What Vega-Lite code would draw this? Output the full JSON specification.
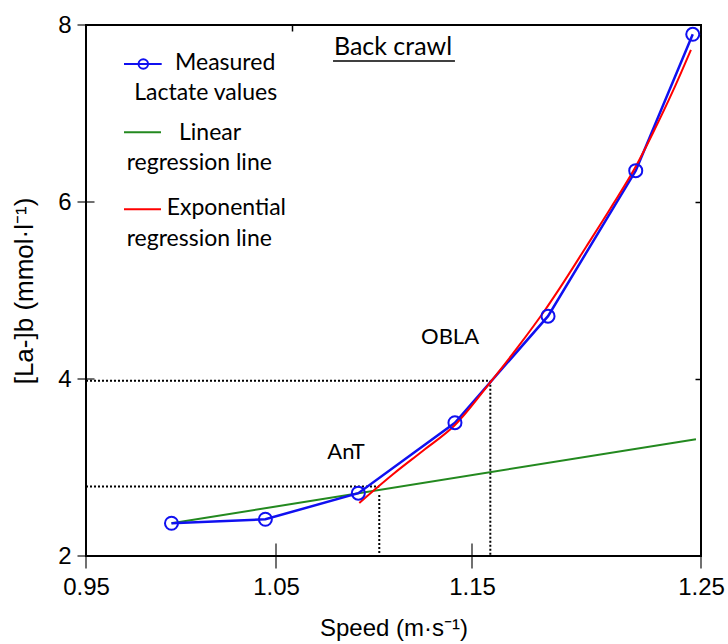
{
  "$schema": "https://vega.github.io/schema/vega-lite/v6.json",
  "width": 615,
  "height": 531,
  "autosize": {"type": "none"},
  "padding": {"left": 86, "top": 25, "right": 27, "bottom": 88},
  "background": "white",
  "config": {
    "view": {"stroke": "black", "strokeWidth": 2},
    "axis": {
      "grid": false,
      "domain": false,
      "ticks": false,
      "tickSize": 0,
      "labelFlush": false,
      "labelFont": "Liberation Sans",
      "labelFontSize": 24,
      "labelColor": "black",
      "titleFont": "Liberation Sans",
      "titleFontSize": 24,
      "titleFontWeight": "normal",
      "titleColor": "black"
    }
  },
  "datasets": {
    "measured": [
      {"x": 0.995, "y": 2.37, "series": "Measured"},
      {"x": 1.0444, "y": 2.415, "series": "Measured"},
      {"x": 1.092, "y": 2.71, "series": "Measured"},
      {"x": 1.1413, "y": 3.506, "series": "Measured"},
      {"x": 1.1832, "y": 4.71, "series": "Measured"},
      {"x": 1.2215, "y": 6.354, "series": "Measured"},
      {"x": 1.2464, "y": 7.895, "series": "Measured"}
    ],
    "linear": [
      {"x": 0.995, "y": 2.37, "series": "Linear"},
      {"x": 1.2478, "y": 3.32, "series": "Linear"}
    ],
    "exponential": [
      {"x": 1.0925, "y": 2.6, "series": "Exponential"},
      {"x": 1.11, "y": 2.93, "series": "Exponential"},
      {"x": 1.125, "y": 3.19, "series": "Exponential"},
      {"x": 1.1413, "y": 3.48, "series": "Exponential"},
      {"x": 1.1579, "y": 3.96, "series": "Exponential"},
      {"x": 1.17, "y": 4.36, "series": "Exponential"},
      {"x": 1.1819, "y": 4.78, "series": "Exponential"},
      {"x": 1.1884, "y": 5.03, "series": "Exponential"},
      {"x": 1.2, "y": 5.5, "series": "Exponential"},
      {"x": 1.2105, "y": 5.93, "series": "Exponential"},
      {"x": 1.2215, "y": 6.4, "series": "Exponential"},
      {"x": 1.229, "y": 6.78, "series": "Exponential"},
      {"x": 1.238, "y": 7.27, "series": "Exponential"},
      {"x": 1.2456, "y": 7.72, "series": "Exponential"}
    ],
    "guides": [
      {"x": 0.95, "x2": 1.158, "y": 3.98, "y2": 3.98},
      {"x": 1.158, "x2": 1.158, "y": 3.98, "y2": 2},
      {"x": 0.95, "x2": 1.1027, "y": 2.785, "y2": 2.785},
      {"x": 1.1027, "x2": 1.1027, "y": 2.69, "y2": 2}
    ],
    "xticks": [
      {"x": 0.95, "y": 2}, {"x": 1.05, "y": 2}, {"x": 1.15, "y": 2}, {"x": 1.25, "y": 2}
    ],
    "yticks": [
      {"x": 0.95, "y": 2}, {"x": 0.95, "y": 4}, {"x": 0.95, "y": 6}, {"x": 0.95, "y": 8}
    ],
    "legendSwatches": [
      {"series": "Measured", "x": 0.97, "x2": 0.98984, "y": 7.559},
      {"series": "Linear", "x": 0.97, "x2": 0.98947, "y": 6.788},
      {"series": "Exponential", "x": 0.97, "x2": 0.98947, "y": 5.918}
    ],
    "legendMarker": [
      {"series": "Measured", "x": 0.98016, "y": 7.559}
    ],
    "legendText": [
      {"label": "Measured", "x": 0.99684, "y": 7.574},
      {"label": "Lactate values", "x": 0.97542, "y": 7.232},
      {"label": "Linear", "x": 0.99895, "y": 6.78},
      {"label": "regression line", "x": 0.97142, "y": 6.441},
      {"label": "Exponential", "x": 0.99247, "y": 5.936},
      {"label": "regression line", "x": 0.97142, "y": 5.579}
    ],
    "title": [
      {"label": "Back crawl", "x": 1.1097, "y": 7.751}
    ],
    "underline": [
      {"x": 1.0791, "x2": 1.1413, "y": 7.593}
    ],
    "annotations": [
      {"label": "OBLA", "x": 1.1388, "y": 4.475},
      {"label": "AnT", "x": 1.0857, "y": 3.175}
    ]
  },
  "resolve": {"axis": {"x": "independent", "y": "independent"}},
  "layer": [
    {
      "data": {"name": "guides"},
      "mark": {"type": "rule", "color": "black", "strokeWidth": 2, "strokeDash": [2, 2]},
      "encoding": {
        "x": {
          "field": "x", "type": "quantitative",
          "scale": {"domain": [0.95, 1.05, 1.15, 1.25], "range": [0, 190, 386, 615], "nice": false, "zero": false},
          "axis": {"orient": "bottom", "values": [0.95, 1.05, 1.15, 1.25], "format": ".2f", "labelPadding": 19, "title": "Speed (m·s⁻¹)", "titlePadding": 17}
        },
        "x2": {"field": "x2"},
        "y": {
          "field": "y", "type": "quantitative",
          "scale": {"domain": [2, 8], "nice": false, "zero": false},
          "axis": {"orient": "left", "values": [2, 4, 6, 8], "labelPadding": 15, "title": "[La-]b (mmol·l⁻¹)", "titleFontSize": 26, "titlePadding": 20}
        },
        "y2": {"field": "y2"}
      }
    },
    {
      "data": {"name": "xticks"},
      "mark": {"type": "tick", "orient": "vertical", "color": "black", "thickness": 1.6, "size": 25},
      "encoding": {
        "x": {"field": "x", "type": "quantitative", "axis": {"orient": "top", "values": [1.058], "labels": false, "ticks": true, "tickSize": -6, "tickWidth": 1.5, "tickColor": "black", "domain": false, "title": null}},
        "y": {"field": "y", "type": "quantitative", "axis": {"orient": "right", "values": [4, 6], "labels": false, "ticks": true, "tickSize": -6, "tickWidth": 1.5, "tickColor": "black", "domain": false, "title": null}}
      }
    },
    {
      "data": {"name": "yticks"},
      "mark": {"type": "tick", "orient": "horizontal", "color": "black", "thickness": 1.6, "size": 17},
      "encoding": {
        "x": {"field": "x", "type": "quantitative", "axis": null},
        "y": {"field": "y", "type": "quantitative", "axis": null}
      }
    },
    {
      "data": {"name": "linear"},
      "mark": {"type": "line", "strokeWidth": 2},
      "encoding": {
        "x": {"field": "x", "type": "quantitative", "axis": null},
        "y": {"field": "y", "type": "quantitative", "axis": null},
        "color": {"field": "series", "type": "nominal", "scale": {"domain": ["Measured", "Linear", "Exponential"], "range": ["#1010f0", "#23891f", "#ff0000"]}, "legend": null}
      }
    },
    {
      "data": {"name": "measured"},
      "mark": {"type": "line", "strokeWidth": 2.5},
      "encoding": {
        "x": {"field": "x", "type": "quantitative", "axis": null},
        "y": {"field": "y", "type": "quantitative", "axis": null},
        "color": {"field": "series", "type": "nominal", "legend": null}
      }
    },
    {
      "data": {"name": "exponential"},
      "mark": {"type": "line", "strokeWidth": 2, "interpolate": "monotone"},
      "encoding": {
        "x": {"field": "x", "type": "quantitative", "axis": null},
        "y": {"field": "y", "type": "quantitative", "axis": null},
        "color": {"field": "series", "type": "nominal", "legend": null}
      }
    },
    {
      "data": {"name": "measured"},
      "mark": {"type": "point", "shape": "circle", "filled": false, "size": 170, "strokeWidth": 2, "opacity": 1},
      "encoding": {
        "x": {"field": "x", "type": "quantitative", "axis": null},
        "y": {"field": "y", "type": "quantitative", "axis": null},
        "color": {"field": "series", "type": "nominal", "legend": null}
      }
    },
    {
      "data": {"name": "legendSwatches"},
      "mark": {"type": "rule", "strokeWidth": 2},
      "encoding": {
        "x": {"field": "x", "type": "quantitative", "axis": null},
        "x2": {"field": "x2"},
        "y": {"field": "y", "type": "quantitative", "axis": null},
        "color": {"field": "series", "type": "nominal", "legend": null}
      }
    },
    {
      "data": {"name": "legendMarker"},
      "mark": {"type": "point", "shape": "circle", "filled": false, "size": 90, "strokeWidth": 2, "opacity": 1},
      "encoding": {
        "x": {"field": "x", "type": "quantitative", "axis": null},
        "y": {"field": "y", "type": "quantitative", "axis": null},
        "color": {"field": "series", "type": "nominal", "legend": null}
      }
    },
    {
      "data": {"name": "legendText"},
      "mark": {"type": "text", "align": "left", "baseline": "middle", "font": "Lato", "fontSize": 23, "color": "black"},
      "encoding": {
        "x": {"field": "x", "type": "quantitative", "axis": null},
        "y": {"field": "y", "type": "quantitative", "axis": null},
        "text": {"field": "label"}
      }
    },
    {
      "data": {"name": "title"},
      "mark": {"type": "text", "align": "center", "baseline": "middle", "font": "Lato", "fontSize": 25, "color": "black"},
      "encoding": {
        "x": {"field": "x", "type": "quantitative", "axis": null},
        "y": {"field": "y", "type": "quantitative", "axis": null},
        "text": {"field": "label"}
      }
    },
    {
      "data": {"name": "underline"},
      "mark": {"type": "rule", "color": "black", "strokeWidth": 1.6},
      "encoding": {
        "x": {"field": "x", "type": "quantitative", "axis": null},
        "x2": {"field": "x2"},
        "y": {"field": "y", "type": "quantitative", "axis": null}
      }
    },
    {
      "data": {"name": "annotations"},
      "mark": {"type": "text", "align": "center", "baseline": "middle", "font": "Lato", "fontSize": 22, "color": "black"},
      "encoding": {
        "x": {"field": "x", "type": "quantitative", "axis": null},
        "y": {"field": "y", "type": "quantitative", "axis": null},
        "text": {"field": "label"}
      }
    }
  ]
}
